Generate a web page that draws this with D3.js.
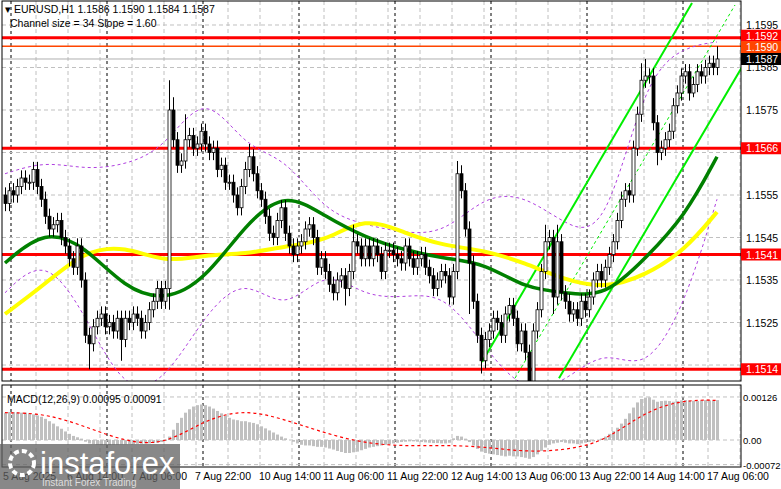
<!DOCTYPE html>
<html><head><meta charset="utf-8">
<script src="https://cdn.jsdelivr.net/npm/d3@7"></script>
<style>body{margin:0;background:#fff}svg{display:block;font-family:"Liberation Sans",Arial,sans-serif}</style>
</head><body><svg id="c" width="781" height="489"></svg>
<script>
const closes=[1.1553,1.1556,1.1555,1.1557,1.1559,1.1558,1.1558,1.1561,1.1557,1.1554,
1.1550,1.1547,1.1548,1.1549,1.1545,1.1543,1.1540,1.1538,1.1543,1.1535,
1.1522,1.1520,1.1524,1.1526,1.1527,1.1524,1.1525,1.1523,1.1526,1.1521,
1.1526,1.1525,1.1527,1.1526,1.1523,1.1525,1.1528,1.1530,1.1533,1.1530,
1.1533,1.1575,1.1568,1.1562,1.1563,1.1568,1.1569,1.1566,1.1567,1.1570,
1.1567,1.1565,1.1566,1.1561,1.1562,1.1558,1.1558,1.1555,1.1552,1.1557,
1.1561,1.1564,1.1560,1.1556,1.1554,1.1550,1.1546,1.1545,1.1549,1.1552,
1.1546,1.1543,1.1541,1.1543,1.1544,1.1547,1.1548,1.1545,1.1538,1.1540,
1.1537,1.1534,1.1532,1.1535,1.1536,1.1533,1.1537,1.1544,1.1543,1.1540,
1.1543,1.1540,1.1543,1.1541,1.1537,1.1542,1.1542,1.1541,1.1540,1.1539,
1.1543,1.1540,1.1538,1.1540,1.1541,1.1538,1.1536,1.1533,1.1535,1.1537,
1.1536,1.1531,1.1537,1.1560,1.1556,1.1547,1.1539,1.1530,1.1522,1.1516,
1.1521,1.1523,1.1526,1.1525,1.1522,1.1527,1.1529,1.1526,1.1520,1.1523,
1.1518,1.1511,1.1523,1.1528,1.1537,1.1544,1.1545,1.1531,1.1544,1.1532,
1.1530,1.1527,1.1528,1.1526,1.1530,1.1528,1.1531,1.1535,1.1537,1.1535,
1.1538,1.1541,1.1544,1.1549,1.1554,1.1556,1.1555,1.1566,1.1574,1.1582,
1.1583,1.1583,1.1572,1.1565,1.1566,1.1568,1.1570,1.1576,1.1579,1.1583,
1.1584,1.1579,1.1581,1.1584,1.1583,1.1585,1.1586,1.1585,1.1587];
const firstOpen=1.1555;
const bigHighs={41:1.1582,42:1.1578,45:1.1574,61:1.1567,87:1.1548,113:1.1563,114:1.1562,135:1.1548,138:1.1548,159:1.1586,160:1.1587,178:1.1590};
const bigLows={21:1.1514,29:1.1516,41:1.1528,85:1.1529,116:1.1527,119:1.1513,131:1.1509,137:1.1527,163:1.1562,172:1.1578};
const macdHist=[80,82,82,81,80,80,78,75,72,68,62,55,48,40,33,25,18,12,8,4,
-5,-10,-12,-14,-15,-15,-15,-14,-14,-13,-13,-12,-12,-11,-11,-10,-10,-9,-8,-6,
-3,10,30,50,65,80,90,98,102,104,102,98,92,85,78,72,65,60,58,55,
55,52,50,46,40,34,28,22,16,10,5,0,-5,-10,-14,-16,-16,-18,-20,-20,
-22,-25,-28,-32,-35,-38,-38,-36,-34,-30,-26,-22,-20,-18,-16,-14,-12,-10,-8,-6,
-5,-4,-4,-5,-6,-7,-8,-9,-9,-10,-10,-8,5,12,10,4,-6,-16,-26,-34,
-38,-40,-42,-44,-46,-48,-46,-48,-48,-50,-52,-55,-50,-42,-32,-22,-14,-10,-8,-6,
-8,-10,-10,-12,-10,-8,-6,-4,0,4,10,18,26,36,48,62,78,95,110,120,
124,125,118,112,114,115,114,112,114,116,117,116,115,114,116,117,116,115,117];
const sigIdx=[0,10,20,30,40,50,60,70,80,90,100,110,120,130,140,150,160,170,178];
const macdSignal=[80,78,40,-5,-15,60,90,60,20,-10,-18,-15,-20,-35,-30,-5,85,118,116];
const maIdx=[0,10,20,30,40,50,60,70,80,90,100,110,120,130,140,150,160,170,178];
const maGreen=[1.1539,1.1547,1.1543,1.1533,1.1530,1.1535,1.1548,1.1556,1.1550,1.1545,1.1542,1.1540,1.1539,1.1533,1.1532,1.1531,1.1540,1.1550,1.1564];
const maYellow=[1.1527,1.1534,1.1542,1.1543,1.1539,1.1541,1.1541,1.1543,1.1544,1.1550,1.1546,1.1543,1.1542,1.1539,1.1535,1.1533,1.1536,1.1542,1.1551];
const bandUpper=[1.1560,1.1563,1.1561,1.1562,1.1566,1.1580,1.1566,1.1564,1.1551,1.1548,1.1546,1.1546,1.1555,1.1555,1.1548,1.1545,1.1583,1.1590,1.1591];
const bandLower=[1.1532,1.1541,1.1527,1.1508,1.1511,1.1527,1.1536,1.1527,1.1538,1.1531,1.1531,1.1532,1.1519,1.1508,1.1511,1.1519,1.1513,1.1529,1.1554];
const channel=[{a:[119.25,1.15157],b:[171.75,1.16002],dash:false},{a:[127.5,1.15119],b:[182.5,1.15997],dash:true},{a:[138.5,1.15119],b:[184.25,1.15851],dash:false}];
const levels=[{p:1.1592,c:"#ff0000",w:3},{p:1.1590,c:"#ff4500",w:1.5},{p:1.1566,c:"#ff0000",w:3},{p:1.1541,c:"#ff0000",w:3},{p:1.1514,c:"#ff0000",w:3}];
const priceTicks=[1.1595,1.1585,1.1575,1.1555,1.1545,1.1535,1.1525];
const timeLabels=["5 Aug 2025","6 Aug 14:00","7 Aug 06:00","7 Aug 22:00","10 Aug 14:00","11 Aug 06:00","11 Aug 22:00","12 Aug 14:00","13 Aug 06:00","13 Aug 22:00","14 Aug 14:00","17 Aug 06:00"];
const timeLabelIdx=[0,16,32,48,64,80,96,112,128,144,160,176];
const lastPrice=1.1587;

const svg=d3.select("#c");
const L=2,R=741,T=1,B=381,MT=385,MB=467;
const x=d3.scaleLinear().domain([0,178]).range([5,717]);
const y=d3.scaleLinear().domain([1.151124,1.160088]).range([381,0]);
const ym=d3.scaleLinear().domain([-0.00079,0.00161]).range([467,385]);
svg.append("defs").append("clipPath").attr("id","cp").append("rect").attr("x",L).attr("y",T).attr("width",R-L).attr("height",B-T);
svg.append("defs").append("clipPath").attr("id","cpm").append("rect").attr("x",L).attr("y",MT).attr("width",R-L).attr("height",MB-MT);
const g=svg.append("g").attr("clip-path","url(#cp)");
const gm=svg.append("g").attr("clip-path","url(#cpm)");
const gx=d3.range(0,180,8);
[g,gm].forEach((gg,k)=>{
 gg.selectAll(null).data(gx).join("line").attr("x1",d=>x(d)+31).attr("x2",d=>x(d)+31).attr("y1",k?MT:T).attr("y2",k?MB:B).attr("stroke","#c0c0c0").attr("stroke-dasharray","4,3");
 gg.selectAll(null).data(d3.range(2,180,24)).join("line").attr("x1",d=>x(d)-2).attr("x2",d=>x(d)-2).attr("y1",k?MT:T).attr("y2",k?MB:B).attr("stroke","#000").attr("stroke-dasharray","3,3");
});
g.selectAll(null).data(d3.range(1.1515,1.1600,0.001)).join("line").attr("x1",L).attr("x2",R).attr("y1",d=>y(d)).attr("y2",d=>y(d)).attr("stroke","#c0c0c0").attr("stroke-dasharray","4,3");
gm.selectAll(null).data([0.00126,0,-0.00072]).join("line").attr("x1",L).attr("x2",R).attr("y1",d=>ym(d)).attr("y2",d=>ym(d)).attr("stroke","#c0c0c0").attr("stroke-dasharray","4,3");
g.selectAll(null).data(levels).join("line").attr("x1",L).attr("x2",R).attr("y1",d=>y(d.p)).attr("y2",d=>y(d.p)).attr("stroke",d=>d.c).attr("stroke-width",d=>d.w);
g.append("line").attr("x1",L).attr("x2",R).attr("y1",y(lastPrice)).attr("y2",y(lastPrice)).attr("stroke","#b0b0b0");
const ln=(arr)=>d3.line().x((d,i)=>x(maIdx[i])).y(d=>y(d)).curve(d3.curveBasis)(arr);
[bandUpper,bandLower].forEach(a=>g.append("path").attr("d",ln(a)).attr("fill","none").attr("stroke","#b040e0").attr("stroke-dasharray","3,3"));
g.selectAll(null).data(channel).join("line").attr("x1",d=>x(d.a[0])).attr("y1",d=>y(d.a[1])).attr("x2",d=>x(d.b[0])).attr("y2",d=>y(d.b[1])).attr("stroke","#00ee00").attr("stroke-width",d=>d.dash?1:2).attr("stroke-dasharray",d=>d.dash?"3,3":null);
g.append("path").attr("d",ln(maYellow)).attr("fill","none").attr("stroke","#ffff00").attr("stroke-width",4);
g.append("path").attr("d",ln(maGreen)).attr("fill","none").attr("stroke","#008000").attr("stroke-width",3.5);
const bars=closes.map((c,i)=>{const o=i?closes[i-1]:firstOpen;return{i,o,c,h:bigHighs[i]??Math.max(o,c)+0.00018,l:bigLows[i]??Math.min(o,c)-0.00018};});
g.selectAll(null).data(bars).join("line").attr("x1",d=>x(d.i)+0.5).attr("x2",d=>x(d.i)+0.5).attr("y1",d=>y(d.h)).attr("y2",d=>y(d.l)).attr("stroke","#000");
g.selectAll(null).data(bars).join("rect").attr("x",d=>x(d.i)-1).attr("width",3).attr("y",d=>y(Math.max(d.o,d.c))).attr("height",d=>Math.max(1,Math.abs(y(d.o)-y(d.c)))).attr("fill",d=>d.c>=d.o?"#fff":"#000").attr("stroke","#000").attr("stroke-width",0.8);
gm.selectAll(null).data(macdHist).join("rect").attr("x",(d,i)=>x(i)-1).attr("width",3).attr("y",d=>Math.min(ym(d/1e5),ym(0))).attr("height",d=>Math.abs(ym(d/1e5)-ym(0))).attr("fill","#c0c0c0");
gm.append("path").attr("d",d3.line().x((d,i)=>x(sigIdx[i])).y(d=>ym(d/1e5)).curve(d3.curveBasis)(macdSignal)).attr("fill","none").attr("stroke","#ff0000").attr("stroke-dasharray","3,3").attr("stroke-width",1.2);
svg.append("rect").attr("x",L).attr("y",T).attr("width",R-L).attr("height",B-T).attr("fill","none").attr("stroke","#000");
svg.append("rect").attr("x",L).attr("y",MT).attr("width",R-L).attr("height",MB-MT).attr("fill","none").attr("stroke","#000");
const fs="10.5px";
svg.selectAll(null).data(priceTicks).join("text").attr("x",746).attr("y",d=>y(d)+4).text(d=>d.toFixed(4)).attr("font-size",fs).attr("fill","#000");
svg.selectAll(null).data([0.00126,0,-0.00072]).join("text").attr("x",743).attr("y",d=>ym(d)+4).text(d=>d===0?"0.00":d.toFixed(5)).attr("font-size","9.5px");
const boxes=[{p:1.1592,bg:"#ff0000",dy:-2},{p:1.1590,bg:"#ff4500",dy:1},{p:1.1566,bg:"#ff0000",dy:0},{p:1.1541,bg:"#ff0000",dy:0},{p:1.1514,bg:"#ff0000",dy:0},{p:lastPrice,bg:"#000",dy:0}];
const bx=svg.selectAll(null).data(boxes).join("g").attr("transform",d=>`translate(741,${y(d.p)+d.dy})`);
bx.append("rect").attr("x",0).attr("y",-6).attr("width",40).attr("height",12).attr("fill",d=>d.bg);
bx.append("text").attr("x",5).attr("y",4).text(d=>d.p.toFixed(4)).attr("font-size",fs).attr("fill","#fff");
svg.selectAll(null).data(timeLabels).join("text").attr("x",(d,i)=>x(timeLabelIdx[i])-2).attr("y",480).text(d=>d).attr("font-size",fs);
svg.append("text").attr("x",5).attr("y",13).text("▾ EURUSD,H1  1.1586 1.1590 1.1584 1.1587").attr("font-size",fs);
svg.append("text").attr("x",10).attr("y",27).text("Channel size = 34 Slope = 1.60").attr("font-size",fs);
svg.append("text").attr("x",7).attr("y",403).text("MACD(12,26,9) 0.00095 0.00091").attr("font-size",fs);
svg.append("rect").attr("x",0).attr("y",444).attr("width",180).attr("height",45).attr("fill","#606060").attr("opacity",0.75);
svg.append("circle").attr("cx",22).attr("cy",463).attr("r",12).attr("fill","none").attr("stroke","#fff").attr("stroke-width",4).attr("stroke-dasharray","5,3");
svg.append("text").attr("x",40).attr("y",474).text("instaforex").attr("font-size","31px").attr("fill","#fff");
svg.append("text").attr("x",42).attr("y",486).text("Instant Forex Trading").attr("font-size","10px").attr("fill","#ddd");
</script></body></html>
